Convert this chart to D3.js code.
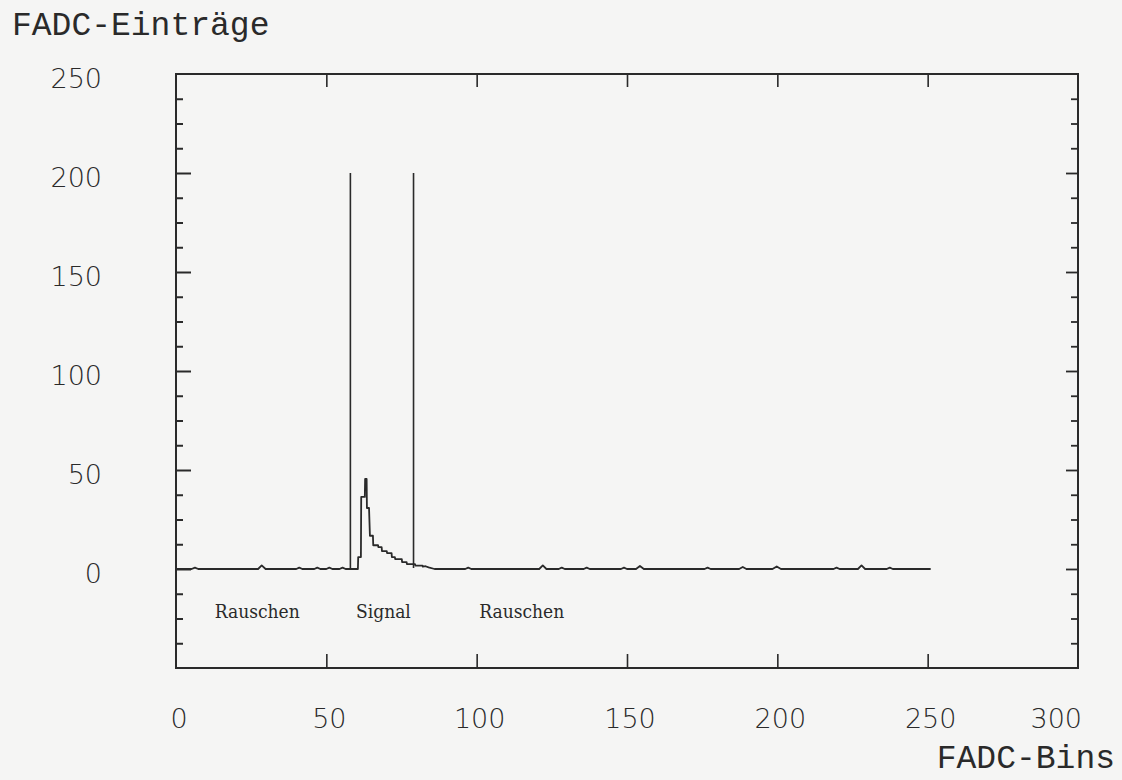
<!DOCTYPE html>
<html>
<head>
<meta charset="utf-8">
<script src="https://cdn.jsdelivr.net/npm/d3@7"></script>
<style>
  html, body { margin: 0; padding: 0; background: #f5f5f4; }
  svg { display: block; }
</style>
</head>
<body>
<svg id="chart" width="1122" height="780"></svg>
<script>
// ---- data ----
const xTickValues = [0, 50, 100, 150, 200, 250, 300];
const yTickValues = [0, 50, 100, 150, 200, 250];
const yMinorValues = [-37.5, -25, -12.5, 12.5, 25, 37.5, 62.5, 75, 87.5, 112.5, 125, 137.5, 162.5, 175, 187.5, 212.5, 225, 237.5];
const xTickLabels = ["0", "50", "100", "150", "200", "250", "300"];
const yTickLabels = ["0", "50", "100", "150", "200", "250"];

// FADC trace: bin positions and counts
const traceBins = [0, 5.2, 6.3, 7.4, 27.3, 28.5, 29.8, 40, 41, 42, 46, 47, 48, 50, 51, 52, 54.4, 55.4, 56.4,
  60.5, 60.6, 61.5, 61.6, 62.8, 62.9, 63.4, 63.5, 64.2, 64.5, 65.5, 65.6, 67.2, 67.3, 68.4, 68.5, 70.1, 70.2,
  71.7, 71.8, 72.8, 72.9, 75.1, 75.2, 76.7, 76.8, 79.5, 79.6, 82, 82.1, 83, 84, 86,
  96.2, 97.2, 98.2, 120.8, 122, 123.2, 127.3, 128.3, 129.3, 135.6, 136.6, 137.6, 148, 149, 150,
  153, 154.3, 155.6, 175.8, 176.8, 177.8, 187.3, 188.5, 189.7, 198.4, 199.8, 201.2,
  218.7, 219.7, 220.7, 226.8, 228, 229.2, 236.4, 237.4, 238.4, 251];
const traceCounts = [0, 0, 0.7, 0, 0, 1.8, 0, 0, 0.7, 0, 0, 0.7, 0, 0, 0.7, 0, 0, 0.7, 0,
  0, 6, 6, 36.4, 36.4, 45.5, 45.5, 30.8, 30.8, 16.8, 16.8, 12, 12, 11, 11, 9, 9, 8,
  8, 6, 6, 5, 5, 3.5, 3.5, 2.5, 2.5, 1.7, 1.7, 1.2, 1.4, 0.8, 0,
  0, 0.7, 0, 0, 1.8, 0, 0, 0.7, 0, 0, 0.7, 0, 0, 0.7, 0,
  0, 1.5, 0, 0, 0.7, 0, 0, 1, 0, 0, 1.3, 0,
  0, 0.7, 0, 0, 1.8, 0, 0, 0.7, 0, 0];

// signal window boundaries
const windowBins = [58, 79];
const windowTop = 200;

// region labels
const regionNames = ["Rauschen", "Signal", "Rauschen"];
const regionBins = [27, 69, 115];
const regionLevel = -21;

const yTitle = "FADC-Einträge";
const xTitle = "FADC-Bins";

// ---- drawing ----
const svg = d3.select("#chart");
const ink = "#2a2a2a";

const x = d3.scaleLinear().domain([0, 300]).range([176, 1078]);
const y = d3.scaleLinear().domain([-50, 250]).range([668, 74]);

// frame
svg.append("rect")
  .attr("x", x(0)).attr("y", y(250))
  .attr("width", x(300) - x(0)).attr("height", y(-50) - y(250))
  .attr("fill", "none").attr("stroke", ink).attr("stroke-width", 2);

// bottom ticks (inward)
svg.append("g").attr("transform", `translate(0,${y(-50)})`)
  .call(d3.axisBottom(x).tickValues(xTickValues.slice(1, -1)).tickSize(-14).tickFormat(""))
  .call(g => g.select(".domain").remove())
  .call(g => g.selectAll("line").attr("stroke", ink).attr("stroke-width", 1.6));
// top ticks (inward)
svg.append("g").attr("transform", `translate(0,${y(250)})`)
  .call(d3.axisTop(x).tickValues(xTickValues.slice(1, -1)).tickSize(-13).tickFormat(""))
  .call(g => g.select(".domain").remove())
  .call(g => g.selectAll("line").attr("stroke", ink).attr("stroke-width", 1.6));
// left ticks
svg.append("g").attr("transform", `translate(${x(0)},0)`)
  .call(d3.axisLeft(y).tickValues(yTickValues.slice(0, -1)).tickSize(-15).tickFormat(""))
  .call(g => g.select(".domain").remove())
  .call(g => g.selectAll("line").attr("stroke", ink).attr("stroke-width", 2));
svg.append("g").attr("transform", `translate(${x(0)},0)`)
  .call(d3.axisLeft(y).tickValues(yMinorValues).tickSize(-7).tickFormat(""))
  .call(g => g.select(".domain").remove())
  .call(g => g.selectAll("line").attr("stroke", ink).attr("stroke-width", 2));
// right ticks
svg.append("g").attr("transform", `translate(${x(300)},0)`)
  .call(d3.axisRight(y).tickValues(yTickValues.slice(0, -1)).tickSize(-12).tickFormat(""))
  .call(g => g.select(".domain").remove())
  .call(g => g.selectAll("line").attr("stroke", ink).attr("stroke-width", 1.8));
svg.append("g").attr("transform", `translate(${x(300)},0)`)
  .call(d3.axisRight(y).tickValues(yMinorValues).tickSize(-7).tickFormat(""))
  .call(g => g.select(".domain").remove())
  .call(g => g.selectAll("line").attr("stroke", ink).attr("stroke-width", 1.8));

// tick labels
const labelFont = "'DejaVu Sans', sans-serif";
svg.append("g").selectAll("text").data(xTickValues).join("text")
  .attr("x", (d, i) => i === xTickValues.length - 1 ? x(d) + 4 : x(d) + 3)
  .attr("y", 728)
  .attr("text-anchor", (d, i) => i === xTickValues.length - 1 ? "end" : "middle")
  .attr("font-family", labelFont).attr("font-weight", 200)
  .attr("font-size", 27).attr("fill", ink)
  .text((d, i) => xTickLabels[i]);

svg.append("g").selectAll("text").data(yTickValues).join("text")
  .attr("x", 102)
  .attr("y", d => y(d) + 14)
  .attr("text-anchor", "end")
  .attr("font-family", labelFont).attr("font-weight", 200)
  .attr("font-size", 27).attr("fill", ink)
  .text((d, i) => yTickLabels[i]);

// axis titles
svg.append("text").attr("x", 12).attr("y", 35)
  .attr("font-family", "'Liberation Mono', monospace").attr("font-size", 33)
  .attr("fill", ink).text(yTitle);
svg.append("text").attr("x", 1115).attr("y", 768).attr("text-anchor", "end")
  .attr("font-family", "'Liberation Mono', monospace").attr("font-size", 33)
  .attr("fill", ink).text(xTitle);

// window lines
svg.append("g").selectAll("line").data(windowBins).join("line")
  .attr("x1", d => x(d)).attr("x2", d => x(d))
  .attr("y1", y(windowTop)).attr("y2", y(0.5))
  .attr("stroke", ink).attr("stroke-width", 1.6);

// trace
const pts = traceBins.map((b, i) => [b, traceCounts[i]]);
svg.append("path")
  .datum(pts)
  .attr("d", d3.line().x(d => x(d[0])).y(d => y(d[1])))
  .attr("fill", "none").attr("stroke", ink).attr("stroke-width", 1.8)
  .attr("stroke-linejoin", "round");

// region labels
svg.append("g").selectAll("text").data(regionNames).join("text")
  .attr("x", (d, i) => x(regionBins[i]))
  .attr("y", y(regionLevel) + 7)
  .attr("text-anchor", "middle")
  .attr("font-family", "'DejaVu Serif Condensed', 'DejaVu Serif', serif").attr("font-size", 19)
  .attr("fill", ink)
  .text(d => d);
</script>
</body>
</html>
